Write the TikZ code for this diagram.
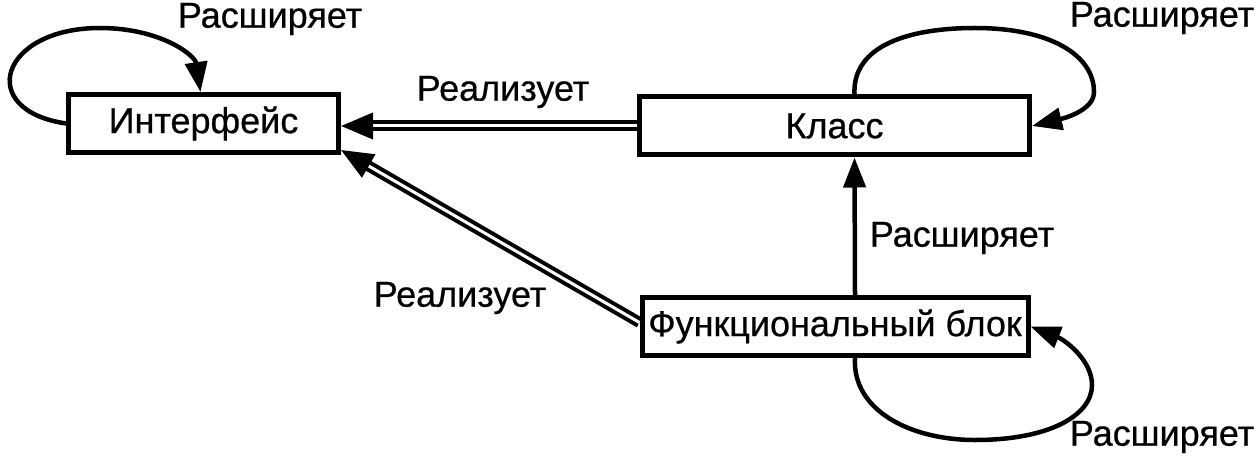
\documentclass[tikz,border=0pt]{standalone}
\usepackage{fontspec}
\setmainfont{Liberation Sans}[FakeBold=0.6]
\usetikzlibrary{arrows.meta}
\begin{document}
\begin{tikzpicture}[x=1pt,y=-1pt,
  box/.style={draw,line width=5pt,minimum height=58pt,inner sep=0pt,font=\fontsize{36}{40}\selectfont},
  lbl/.style={font=\fontsize{36}{40}\selectfont,inner sep=0pt},
  ext/.style={line width=4.5pt,-{Triangle[length=30pt,width=22pt]}},
  real/.style={double,double distance=3pt,line width=4pt,-{Triangle[length=32pt,width=26pt]}}]
\useasboundingbox (0,0) rectangle (1257,457);
\node[box,minimum width=270pt] (i) at (203.5,123.5) {Интерфейс};
\node[box,minimum width=390pt] (k) at (834.5,126) {Класс};
\node[box,minimum width=386pt] (f) at (835,326.5) {Функциональный блок};
% loops
\draw[ext] (i.west) .. controls (-25,110) and (0,28) .. (100,28) .. controls (160,28) and (195,55) .. ([xshift=-3pt]i.north);
\draw[ext] ([xshift=20pt]k.north) .. controls (852,45) and (910,28) .. (975,28) .. controls (1050,28) and (1094,55) .. (1094,92) .. controls (1094,110) and (1065,118) .. (k.east);
\draw[ext] ([xshift=20pt]f.south) .. controls (852,410) and (910,440) .. (975,440) .. controls (1050,440) and (1092,415) .. (1092,385) .. controls (1092,360) and (1065,340) .. (f.east);
% arrows
\draw[ext] ([xshift=20pt]f.north) -- ([xshift=20pt]k.south);
\draw[real] (k.west) -- (k.west -| i.east);
\draw[real] ([yshift=4pt]f.west) -- ([yshift=5pt]i.south east);
% labels
\node[lbl] (l1) at (270,19) {Расширяет};
\node[lbl] (l2) at (1162,18) {Расширяет};
\node[lbl] (l3) at (1162,437) {Расширяет};
\node[lbl] (l4) at (962,238) {Расширяет};
\node[lbl] (l5) at (503,92) {Реализует};
\node[lbl] (l6) at (460,298) {Реализует};
\end{tikzpicture}
\end{document}
